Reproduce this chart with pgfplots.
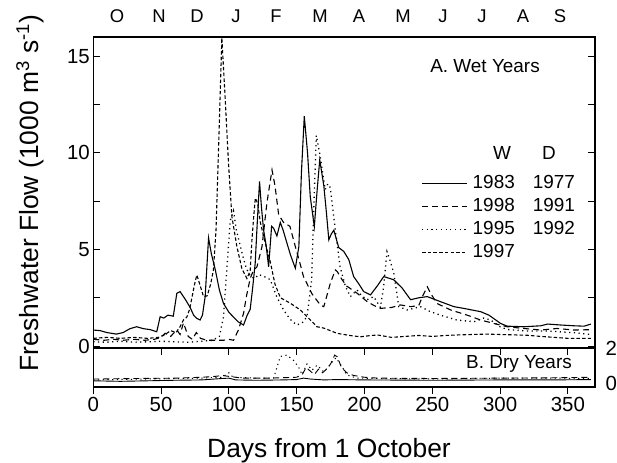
\documentclass[border=0pt]{standalone}
\usepackage{fontspec}
\setmainfont{Liberation Sans}
\usepackage{pgfplots}
\pgfplotsset{compat=1.18}
\tikzset{
 s83/.style={black, line width=1.1bp, solid},
 s98/.style={black, line width=1.1bp, dash pattern=on 6bp off 4bp},
 s95/.style={black, line width=1.3bp, dash pattern=on 1.2bp off 3.5bp},
 s97/.style={black, line width=1.1bp, dash pattern=on 3.5bp off 2.2bp},
}
\begin{document}
\begin{tikzpicture}
\path[use as bounding box] (0bp,0bp) rectangle (617bp,-463bp);
% ---------------- A. Wet years ----------------
\begin{axis}[
 at={(93.3bp,-348bp)}, anchor=south west,
 scale only axis, width=501.7bp, height=311bp,
 xmin=0, xmax=370, ymin=-0.1, ymax=16,
 axis line style={line width=1.1bp},
 tick align=inside, major tick length=7bp,
 every tick/.style={black, line width=1bp},
 xtick={0,50,...,350}, xticklabels={}, xtick pos=left,
 every major x tick/.append style={yshift=-7bp},
 ytick={0,2.5,...,15}, yticklabels={0,,5,,10,,15}, ytick pos=both, yticklabel pos=left,
 tick label style={font=\fontsize{20.5}{24}\selectfont},
 /pgf/number format/assume math mode=true,
 legend style={at={(axis description cs:0.654,0.563)}, anchor=north west,
   draw=none, fill=none, inner sep=0pt, outer sep=0pt, row sep=2bp, column sep=3.5bp,
   nodes={inner sep=1.5bp, text height=14bp, text depth=4bp},
   font=\fontsize{19}{23}\selectfont},
 legend cell align=left,
 legend image code/.code={\draw[#1] (0bp,0bp) -- (45bp,0bp);},
]
\addplot[s83] table {
0 0.83
5 0.8
10 0.7
17 0.62
22 0.7
27 0.9
32 1.0
37 0.9
42 0.85
46.8 0.74
49.3 1.52
52 1.45
55 1.6
59 1.55
61.6 2.73
64 2.82
68 2.4
71.4 2.0
74 1.6
76.4 1.43
78.8 1.35
80.5 1.6
82.5 2.56
85 5.6
87 4.8
90 3.94
93 2.9
96 2.21
100 1.75
103.4 1.5
107 1.25
110.8 1.09
113.5 1.6
115.7 1.9
117.5 3.0
119.4 4.29
121 6.5
122.6 8.52
124 7.2
125.6 6.0
127.5 5.2
129.3 4.1
131.5 6.2
133 6.1
135.4 5.7
137.9 6.4
140 6.0
142.8 5.33
145.5 4.7
149 4.03
151.6 5.15
153.5 9.0
155.6 11.9
158 10.0
160 7.74
163 6.18
165 8.0
167 9.64
170 8.3
171.8 7.0
173.7 5.5
175.5 5.8
177.4 6.0
181 5.1
184.7 4.9
188.4 4.48
192 3.6
196 3.2
199.4 2.82
204.4 2.65
209.3 3.1
214.2 3.6
221.6 3.43
227.8 3.0
234 2.4
240 2.5
246.3 2.56
256 2.3
266 2.04
273.3 1.95
285.7 1.78
291.8 1.6
300.4 1.17
305.3 1.03
317.6 1.0
330 1.05
335 1.14
344.8 1.09
354.6 1.05
362 1.03
367 1.14
};
\addlegendentry{1983\hspace{18bp}1977}
\addplot[s98] table {
0 0.35
8 0.3
15 0.35
22 0.3
30 0.35
38 0.3
45 0.35
50 0.45
53 0.66
57 0.5
61.6 0.83
64 0.6
66.5 1.2
68 0.9
70 0.5
73 0.35
76 0.7
79 0.4
84 0.3
90 0.3
96 0.3
100 0.35
103.4 0.3
107 0.83
110.8 1.69
113 2.6
115.7 3.5
118 3.9
120.7 4.1
124.4 5.15
128 7.4
131.8 9.12
134 8.3
136.7 6.8
140.3 6.4
145 6.2
149 5.15
152 4.4
155 3.6
161.3 2.7
167.4 2.13
170 2.04
174.8 3.25
178.5 3.94
180 3.85
183.4 3.44
187 3.1
194.5 2.74
202 2.3
207 2.1
211.7 1.95
220 2.0
226.5 2.13
234 2.04
240 2.1
243 2.6
246.3 3.07
249 2.7
253.6 2.2
263.5 1.87
275.8 1.6
285.6 1.35
295.5 1.17
305.3 1.0
317.6 0.91
330 0.83
342 0.91
354.6 0.83
367 0.85
};
\addlegendentry{1998\hspace{18bp}1991}
\addplot[s95] table {
0 0.22
10 0.2
20 0.25
30 0.2
40 0.22
50 0.25
60 0.22
70 0.2
80 0.25
88 0.3
93 0.5
96 1.5
99 4.5
101 6.5
103.4 7.0
105.5 6.0
108 5.3
110.5 4.6
113 4.0
116 3.6
119 3.5
122 3.7
126 3.6
130.5 3.44
135 2.6
140.3 1.87
145 1.4
150 1.09
154 1.2
157.6 1.52
161 3.4
163 8.0
164.5 10.9
167.4 9.8
171 8.1
173 8.4
174.8 8.2
178.5 6.0
182 4.1
185.9 3.1
189.6 2.56
194.5 2.9
198 2.6
202 2.4
206.8 2.56
211.7 2.0
214 3.0
216.6 4.89
219 4.4
221.6 3.77
225.3 2.04
231.5 1.87
241.3 2.04
248 1.8
256 1.6
268 1.35
280.8 1.26
288 1.45
293 1.35
300 1.0
305 0.86
320 0.78
335 0.78
354.6 0.69
367 0.6
};
\addlegendentry{1995\hspace{18bp}1992}
\addplot[s97] table {
0 0.4
10 0.45
20 0.4
30 0.45
40 0.4
48 0.45
53 0.6
57 0.8
61 0.7
64 1.0
66.5 1.35
69 1.5
71 1.9
73 2.6
75 3.3
76.4 3.68
78.5 3.2
81.3 2.56
84 2.6
86.5 3.2
88.6 3.94
90.5 6.0
92.5 10.5
94.8 15.95
97.2 12.9
99.7 9.47
102.2 6.7
105.9 5.15
109.6 4.0
113.3 3.5
115.7 3.9
117 5.5
118.3 6.7
119.5 7.66
121.2 7.4
123.2 6.4
126.9 5.3
130.5 4.37
134 3.2
138 2.5
145 2.23
152.7 1.87
157.6 1.52
165 1.0
170 0.93
179.8 0.66
189 0.55
197 0.48
205 0.55
210 0.57
220 0.45
230 0.5
240 0.55
250 0.5
260 0.55
270 0.58
280 0.6
290 0.62
300 0.6
310 0.58
320 0.56
330 0.5
340 0.45
350 0.4
360 0.4
367 0.4
};
\addlegendentry{1997}
\end{axis}
% ---------------- B. Dry years ----------------
\begin{axis}[
 at={(93.3bp,-387bp)}, anchor=south west,
 scale only axis, width=501.7bp, height=39bp,
 xmin=0, xmax=370, ymin=-0.2, ymax=2,
 axis line style={line width=1.1bp},
 tick align=outside, major tick length=7bp,
 every tick/.style={black, line width=1bp},
 xtick={0,50,...,350}, xtick pos=left,
 ytick={0,2}, ytick pos=right, yticklabel pos=right,
 every major y tick/.append style={draw=none},
 tick label style={font=\fontsize{20.5}{24}\selectfont},
 /pgf/number format/assume math mode=true,
]
\addplot[s83, line width=0.9bp] table {
0 0.15
20 0.12
40 0.15
60 0.18
80 0.2
95 0.28
100 0.3
105 0.2
120 0.18
140 0.2
150 0.22
155 0.3
160 0.25
170 0.2
180 0.22
200 0.2
250 0.18
300 0.2
340 0.2
367 0.22
};
\addplot[s98, line width=0.9bp] table {
0 0.25
30 0.28
60 0.3
80 0.35
90 0.4
95 0.45
100 0.4
110 0.3
130 0.3
150 0.35
154 0.5
157 0.9
160 0.7
163 0.5
166 0.8
169 0.6
172 0.8
175 1.1
178 1.6
180 1.5
183 0.9
187 0.6
192 0.45
200 0.35
210 0.3
250 0.28
300 0.3
340 0.32
367 0.35
};
\addplot[s95, line width=1bp] table {
0 0.2
40 0.25
80 0.3
95 0.35
100 0.6
103 0.35
120 0.3
133 0.3
135 0.8
137.9 1.52
142.8 1.6
147.7 1.3
151.4 0.92
154 0.5
157.6 1.1
161.3 0.75
165 1.03
169.9 0.66
173.6 0.95
176 1.2
179 1.45
183.4 0.95
187 0.48
194.5 0.3
210 0.28
250 0.25
300 0.3
340 0.3
367 0.28
};
\end{axis}
% ---------------- texts ----------------
\node[font=\fontsize{19}{23}\selectfont] at (485bp,-66bp) {A. Wet Years};
\node[font=\fontsize{19}{23}\selectfont] at (502bp,-153bp) {W};
\node[font=\fontsize{19}{23}\selectfont] at (549bp,-153bp) {D};
\node[font=\fontsize{19}{23}\selectfont] at (519bp,-364bp) {B. Dry Years};
\node[font=\fontsize{26.5}{30}\selectfont, anchor=base] at (329bp,-457bp) {Days from 1 October};
\node[font=\fontsize{26.5}{30}\selectfont, rotate=90] at (30bp,-193bp) {Freshwater Flow (1000 m\textsuperscript{3} s\textsuperscript{-1})};
\foreach \d/\m in {117/O,159/N,197/D,236/J,276/F,320/M,359/A,403/M,443/J,482/J,523/A,560/S}
  \node[font=\fontsize{18.5}{22}\selectfont, anchor=base] at (\d bp,-22.5bp) {\m};
\end{tikzpicture}
\end{document}
